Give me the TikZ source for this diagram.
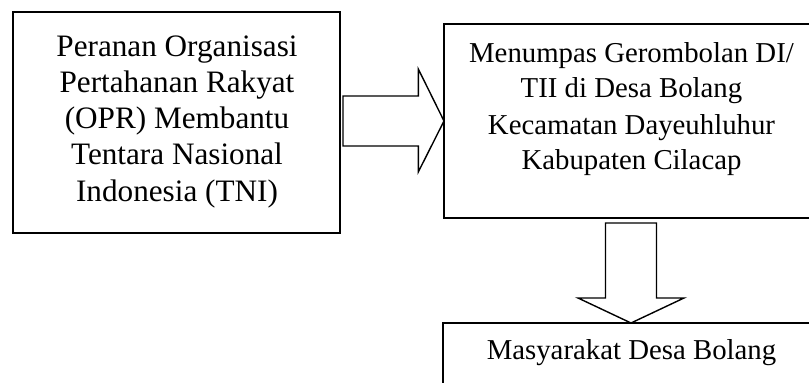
\documentclass[tikz,border=0pt]{standalone}
\usepackage{fontspec}
\setmainfont{Liberation Serif}
\usetikzlibrary{calc}
\tikzset{
  boxframe/.style={draw=black, line width=1.7pt, inner sep=0pt, outer sep=0pt},
  blockarrow/.style={draw=black, line width=1.4pt, line join=miter, fill=white},
  bigline/.style={anchor=base, inner sep=0pt, font=\fontsize{31.2}{36}\selectfont},
  txtline/.style={anchor=base, inner sep=0pt, font=\fontsize{28.8}{34}\selectfont}
}
\begin{document}
\begin{tikzpicture}[x=1pt, y=1pt]
\useasboundingbox (0,0) rectangle (809,383);
\clip (0,0) rectangle (809,383);
\fill[white] (0,0) rectangle (809,383);
% boxes
\node[boxframe, minimum width=327.3pt, minimum height=221.3pt] (lbox) at (176.4,260.6) {};
\node[boxframe, minimum width=374pt, minimum height=194pt] (mbox) at (631,262) {};
\node[boxframe, minimum width=377pt, minimum height=107pt] (bbox) at (631.5,6.5) {};
% left text
\node[bigline] (l1) at (177,326.3) {Peranan Organisasi};
\node[bigline] (l2) at (177,290.5) {Pertahanan Rakyat};
\node[bigline] (l3) at (177,254.3) {(OPR) Membantu};
\node[bigline] (l4) at (177,218) {Tentara Nasional};
\node[bigline] (l5) at (177,181.3) {Indonesia (TNI)};
% middle text
\node[txtline] (m1) at (631.5,320.7) {Menumpas Gerombolan DI/};
\node[txtline] (m2) at (631.5,285) {TII di Desa Bolang};
\node[txtline] (m3) at (631.5,248.5) {Kecamatan Dayeuhluhur};
\node[txtline] (m4) at (631.5,213) {Kabupaten Cilacap};
% bottom text
\node[txtline] (b1) at (631.5,23) {Masyarakat Desa Bolang};
% block arrow right
\coordinate (rtip) at (mbox.west);
\draw[blockarrow] ($(rtip)+(-101,25)$) -- ($(rtip)+(-25.7,25)$) -- ($(rtip)+(-25.7,52)$)
  -- (rtip) -- ($(rtip)+(-25.7,-51)$) -- ($(rtip)+(-25.7,-25)$) -- ($(rtip)+(-101,-25)$) -- cycle;
% block arrow down
\coordinate (dtip) at (mbox.south |- bbox.north);
\draw[blockarrow] ($(dtip)+(-25.5,100)$) -- ($(dtip)+(25.5,100)$) -- ($(dtip)+(25.5,25)$)
  -- ($(dtip)+(53,25)$) -- (dtip) -- ($(dtip)+(-53,25)$) -- ($(dtip)+(-25.5,25)$) -- cycle;
\end{tikzpicture}
\end{document}
